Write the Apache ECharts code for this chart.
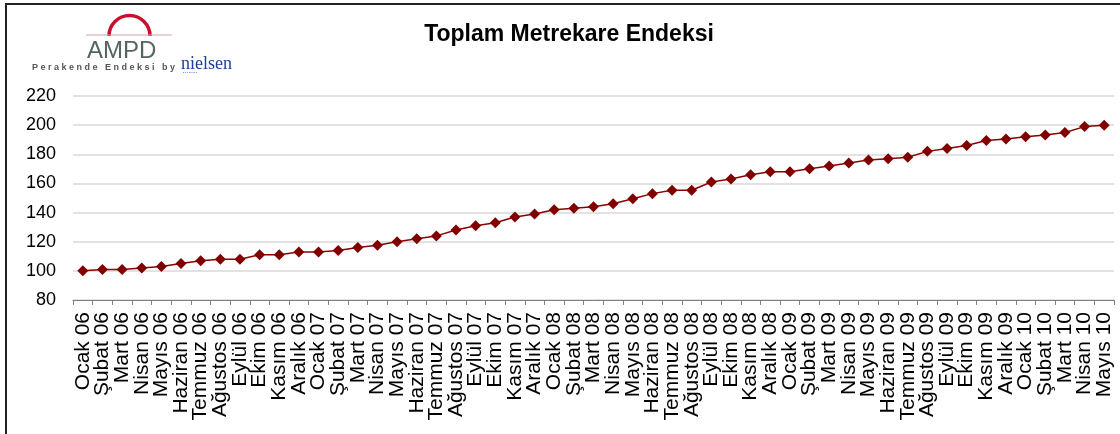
<!DOCTYPE html>
<html><head><meta charset="utf-8">
<script src="https://cdn.jsdelivr.net/npm/echarts@6/dist/echarts.min.js"></script>
<style>html,body{margin:0;padding:0;background:#fff}#c{width:1120px;height:434px}</style>
</head><body><div id="c"></div>
<script>
const categories = ["Ocak 06","Şubat 06","Mart 06","Nisan 06","Mayıs 06","Haziran 06","Temmuz 06","Ağustos 06","Eylül 06","Ekim 06","Kasım 06","Aralık 06",
"Ocak 07","Şubat 07","Mart 07","Nisan 07","Mayıs 07","Haziran 07","Temmuz 07","Ağustos 07","Eylül 07","Ekim 07","Kasım 07","Aralık 07",
"Ocak 08","Şubat 08","Mart 08","Nisan 08","Mayıs 08","Haziran 08","Temmuz 08","Ağustos 08","Eylül 08","Ekim 08","Kasım 08","Aralık 08",
"Ocak 09","Şubat 09","Mart 09","Nisan 09","Mayıs 09","Haziran 09","Temmuz 09","Ağustos 09","Eylül 09","Ekim 09","Kasım 09","Aralık 09",
"Ocak 10","Şubat 10","Mart 10","Nisan 10","Mayıs 10"];
const values = [100,101,101,102,103,105,107,108,108,111,111,113,
113,114,116,117.5,120,122,124,128,131,133,137,139,
142,143,144,146,149.5,153,155.3,155.3,161,163,166,168,
168,170,172,174,176,177,178,182,184,186,189.5,190.5,
192,193.3,195,199,200];
const yTicks = {min:80, max:220, interval:20};
const titleText = "Toplam Metrekare Endeksi";

const chart = echarts.init(document.getElementById('c'));
const F = '"Liberation Sans", Arial, sans-serif';
chart.setOption({
  animation:false,
  backgroundColor:'#fff',
  title:{text:titleText,left:564,textAlign:'center',top:18,textStyle:{fontFamily:F,fontSize:23,fontWeight:'bold',color:'#000'}},
  grid:{left:73,right:6,top:96,bottom:134,containLabel:false},
  xAxis:{type:'category',data:categories,boundaryGap:true,
    axisLine:{lineStyle:{color:'#7f7f7f',width:1}},
    axisTick:{show:true,length:5,lineStyle:{color:'#7f7f7f'},alignWithLabel:false},
    axisLabel:{rotate:90,interval:0,margin:12,fontFamily:F,fontSize:21,color:'#000',hideOverlap:false}},
  yAxis:{type:'value',min:yTicks.min,max:yTicks.max,interval:yTicks.interval,
    axisLine:{show:false},axisTick:{show:false},
    splitLine:{lineStyle:{color:'#d9d9d9',width:1.5}},
    axisLabel:{margin:17,fontFamily:F,fontSize:18,color:'#000'}},
  series:[{type:'line',data:values,symbol:'diamond',symbolSize:11,
    lineStyle:{color:'#8b0000',width:1.5},itemStyle:{color:'#800000'}}],
  graphic:[
    {type:'rect',shape:{x:6,y:4,width:1300,height:600},style:{fill:'none',stroke:'#222',lineWidth:2},silent:true},
    {type:'arc',shape:{cx:129.5,cy:36,r:20.5,startAngle:Math.PI,endAngle:2*Math.PI},style:{stroke:'#c8102e',lineWidth:3.5,fill:'none'}},
    {type:'line',shape:{x1:86,y1:35,x2:172,y2:35},style:{stroke:'#d9a0aa',lineWidth:1}},
    {type:'text',x:87,y:39,style:{text:'AMPD',font:'24px "Liberation Sans", Arial, sans-serif',fill:'#56665f'}},
    {type:'text',x:32,y:63,style:{text:'P e r a k e n d e   E n d e k s i   b y',font:'bold 9px "Liberation Sans", Arial, sans-serif',fill:'#555'}},
    {type:'text',x:181,y:55,style:{text:'nielsen',font:'18px "Liberation Serif", "DejaVu Serif", serif',fill:'#1f3f95'}},
    {type:'text',x:183,y:72,style:{text:'• • • • • • • •',font:'3px sans-serif',fill:'#1f3f95'}}
  ]
});
</script></body></html>
